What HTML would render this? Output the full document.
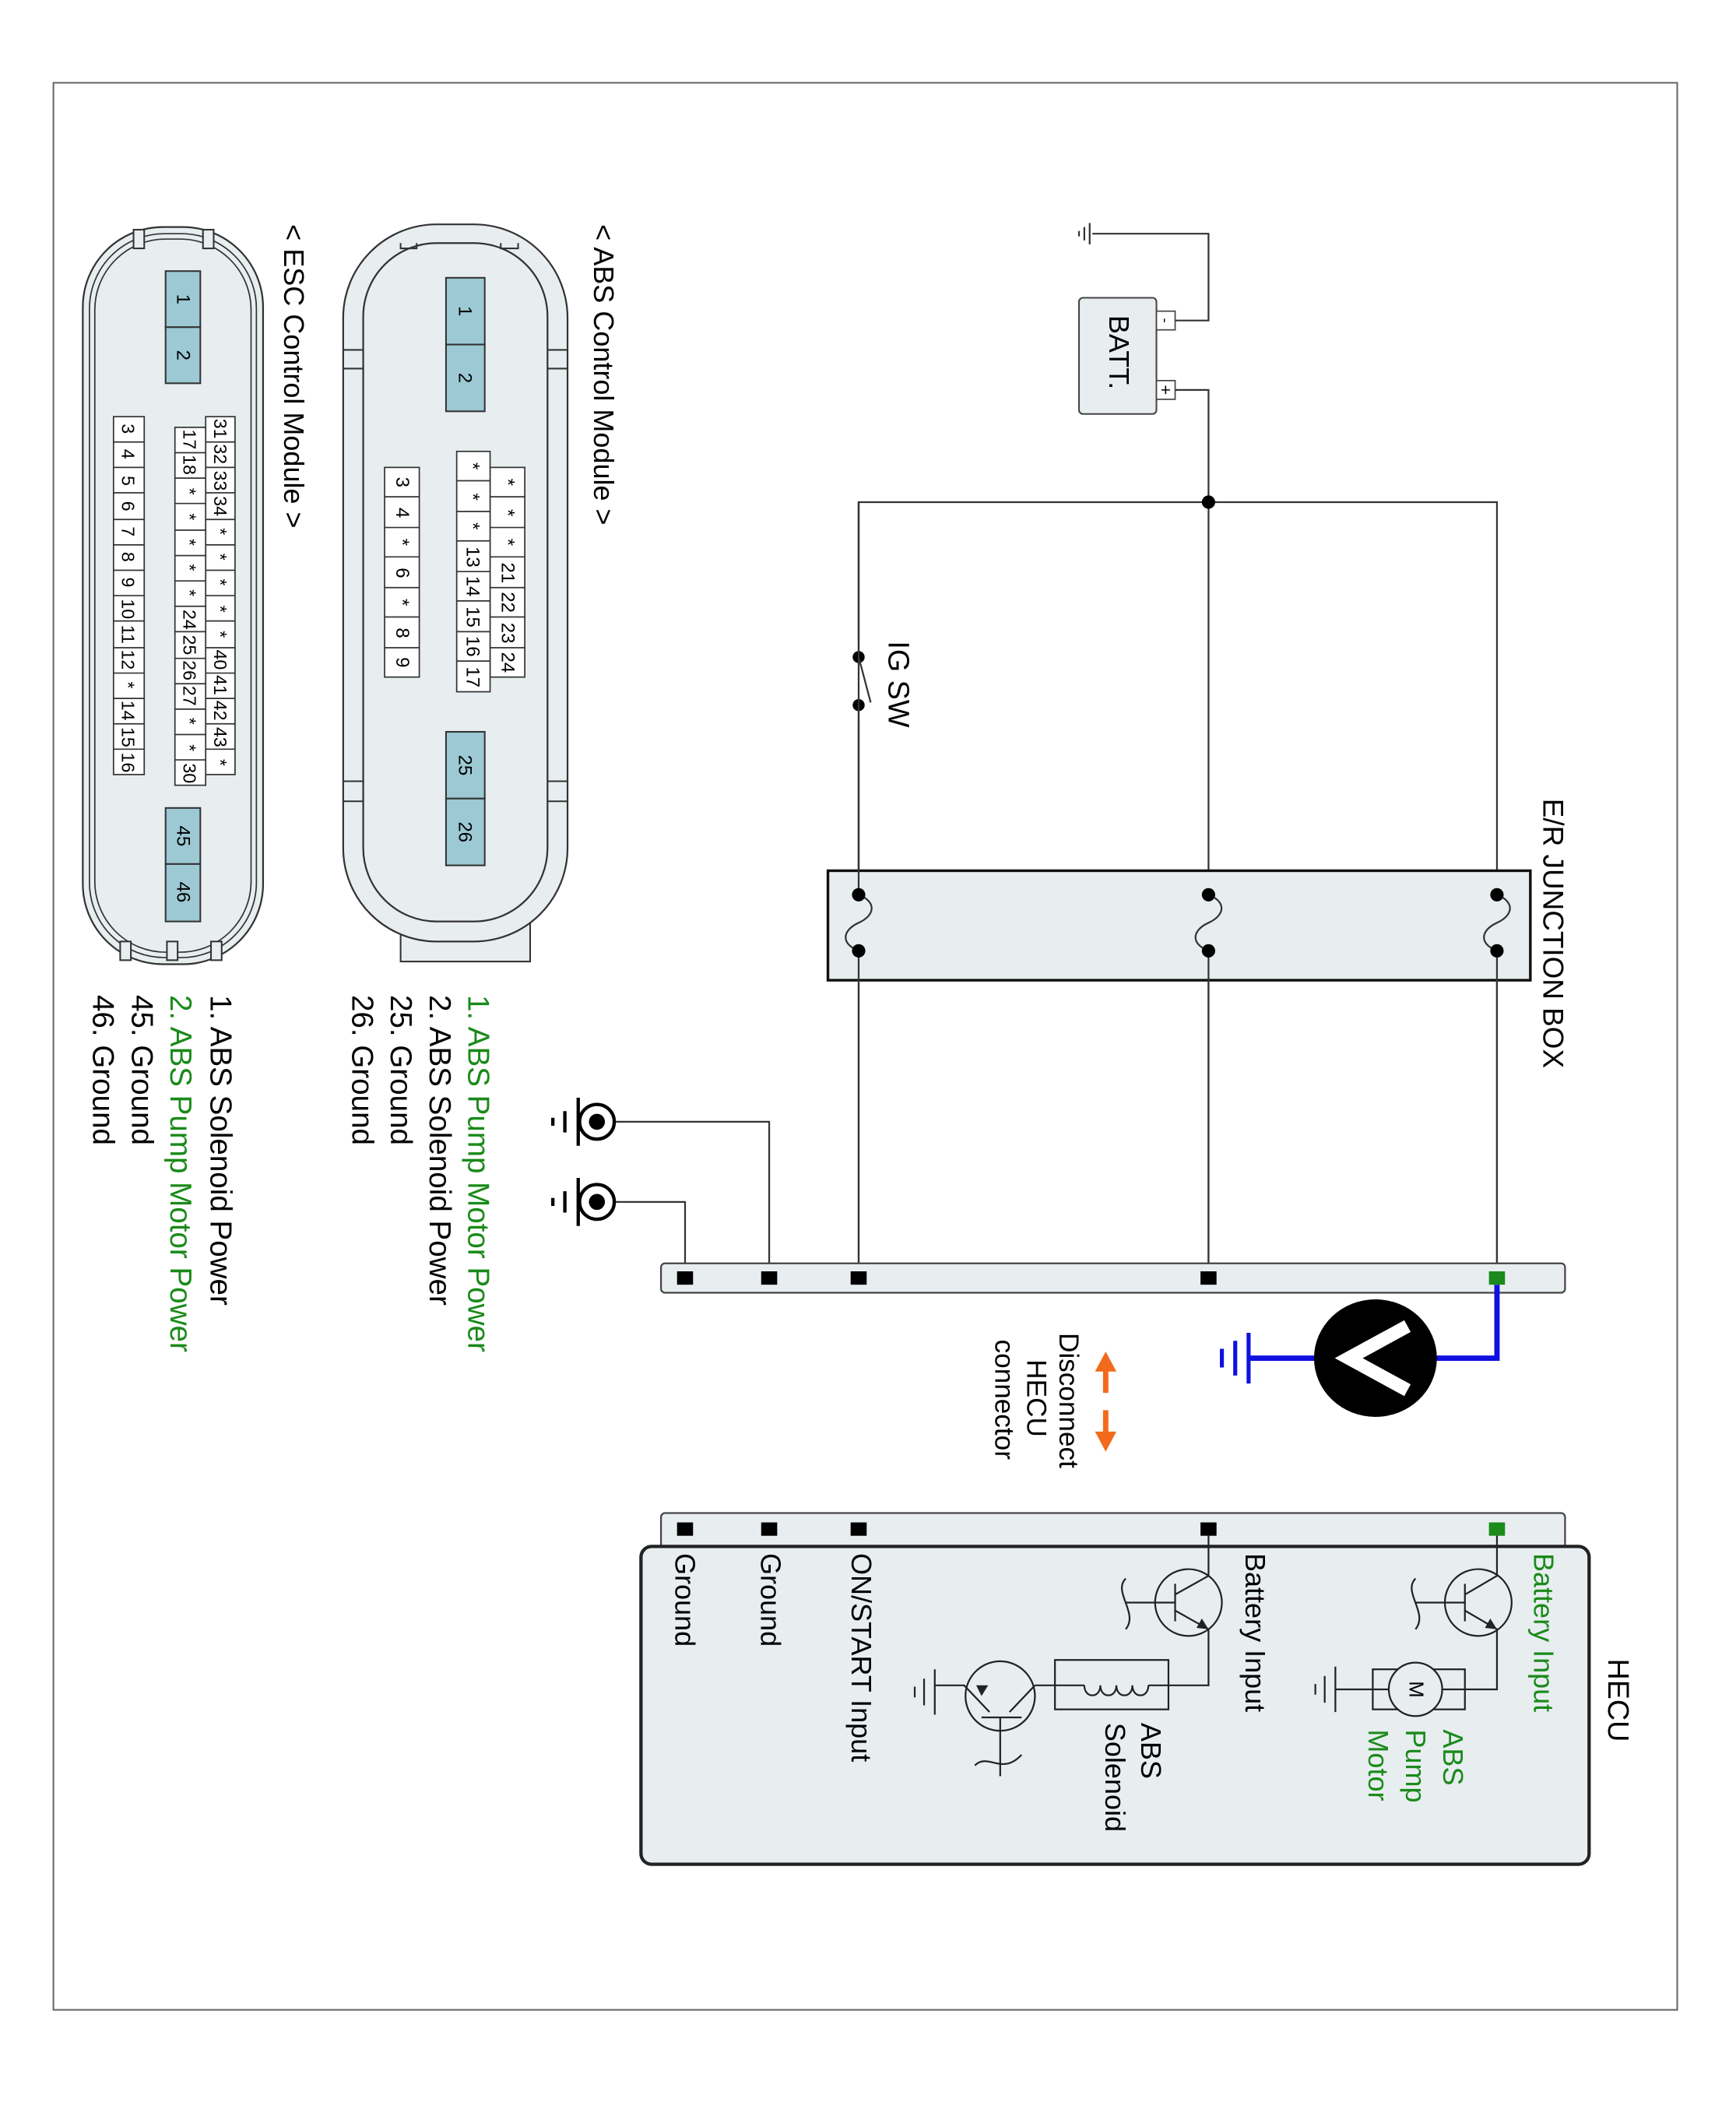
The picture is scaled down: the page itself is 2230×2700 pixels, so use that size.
<!DOCTYPE html>
<html><head><meta charset="utf-8"><style>
html,body{margin:0;padding:0;background:#fff}
svg{display:block}
text{font-family:"Liberation Sans",sans-serif}
</style></head><body>
<svg width="2230" height="2700" viewBox="0 0 1300 1574" xmlns="http://www.w3.org/2000/svg">
<rect x="0" y="0" width="1300" height="1574" fill="#fff"/>
<rect x="40" y="62" width="1216" height="1443" fill="none" stroke="#666" stroke-width="1.2"/>

<g stroke="#333" stroke-width="1.3" fill="none">
<path d="M818 175 H905 V240 H880"/>
<path d="M880 292 H905 V958"/>
<path d="M643 958 V376 H1121 V958"/>
<path d="M812 170 V180 M816 167 V183 M808 173 V177"/>
</g>
<rect x="808" y="223" width="58" height="87" rx="3" fill="#e8eef0" stroke="#444" stroke-width="1.2"/>
<rect x="866" y="233" width="14" height="14" fill="#fff" stroke="#444" stroke-width="1"/>
<rect x="866" y="285" width="14" height="14" fill="#fff" stroke="#444" stroke-width="1"/>
<text transform="translate(873,240) rotate(90)" font-size="11" text-anchor="middle" dominant-baseline="central">-</text>
<text transform="translate(873,292) rotate(90)" font-size="13" text-anchor="middle" dominant-baseline="central">+</text>
<text transform="translate(838,236) rotate(90)" font-size="21" dominant-baseline="central">BATT.</text>
<circle cx="905" cy="376" r="5" fill="#000"/>

<rect x="638" y="480" width="10" height="60" fill="#fff"/>
<path d="M643 376 V492 M643 528 V652" stroke="#333" stroke-width="1.3"/>
<circle cx="643" cy="492" r="4.5" fill="#000"/><circle cx="643" cy="528" r="4.5" fill="#000"/>
<path d="M643 492 L652 526" stroke="#333" stroke-width="1.3"/>
<text transform="translate(673,480) rotate(90)" font-size="22" dominant-baseline="central">IG SW</text>

<rect x="620" y="652" width="526" height="82" fill="#e8eef0" stroke="#111" stroke-width="2"/>
<g stroke="#333" stroke-width="1.3" fill="none">
<path d="M643 376 V670 M643 712 V958"/>
<path d="M905 712 V958"/>
<path d="M1121 712 V958"/>
<path d="M643 670 C656 675 656 685 643 691 C630 697 630 707 643 712"/>
<path d="M905 670 C918 675 918 685 905 691 C892 697 892 707 905 712"/>
<path d="M1121 670 C1134 675 1134 685 1121 691 C1108 697 1108 707 1121 712"/>
</g>
<g fill="#000"><circle cx="643" cy="670" r="5"/><circle cx="643" cy="712" r="5"/><circle cx="905" cy="670" r="5"/><circle cx="905" cy="712" r="5"/><circle cx="1121" cy="670" r="5"/><circle cx="1121" cy="712" r="5"/></g>
<text transform="translate(1163,598) rotate(90)" font-size="21.5" dominant-baseline="central">E/R JUNCTION BOX</text>

<g stroke="#333" stroke-width="1.3" fill="none">
<path d="M460 840 H576 V958"/>
<path d="M460 900 H513 V958"/>
</g>
<g>
<circle cx="447" cy="840" r="13" fill="#fff" stroke="#000" stroke-width="2.5"/><circle cx="447" cy="840" r="6" fill="#000"/>
<path d="M433 822 V858 M423 832 V848 M414 837 V843" stroke="#000" stroke-width="2.5"/>
<circle cx="447" cy="900" r="13" fill="#fff" stroke="#000" stroke-width="2.5"/><circle cx="447" cy="900" r="6" fill="#000"/>
<path d="M433 882 V918 M423 892 V908 M414 897 V903" stroke="#000" stroke-width="2.5"/>
</g>

<rect x="495" y="946" width="677" height="22" rx="3" fill="#e8eef0" stroke="#444" stroke-width="1.3"/>
<g fill="#000"><rect x="507" y="952" width="12" height="10"/><rect x="570" y="952" width="12" height="10"/><rect x="637" y="952" width="12" height="10"/><rect x="899" y="952" width="12" height="10"/></g>
<rect x="1115" y="952" width="12" height="10" fill="#1a8a1a"/>

<path d="M1121 962 V1017 H1065 M995 1017 H935" stroke="#1010e0" stroke-width="4" fill="none"/>
<path d="M935 998 V1036 M925 1004 V1030 M915 1010 V1024" stroke="#1010e0" stroke-width="3"/>
<ellipse cx="1030" cy="1017" rx="46" ry="44" fill="#000"/>
<path d="M1054 993 L1010 1017 L1054 1041" stroke="#fff" stroke-width="10" fill="none"/>

<g stroke="#f26a1b" stroke-width="4" fill="#f26a1b">
<path d="M828 1025 V1043 M828 1056 V1074" fill="none"/>
<path d="M820 1027 L828 1012 L836 1027 Z" stroke="none"/>
<path d="M820 1072 L828 1087 L836 1072 Z" stroke="none"/>
</g>
<text transform="translate(800,998) rotate(90)" font-size="20.5" dominant-baseline="central">Disconnect</text>
<text transform="translate(776,1018) rotate(90)" font-size="20.5" dominant-baseline="central">HECU</text>
<text transform="translate(752,1003) rotate(90)" font-size="20.5" dominant-baseline="central">connector</text>

<rect x="495" y="1133" width="677" height="30" rx="3" fill="#e8eef0" stroke="#444" stroke-width="1.3"/>
<rect x="480" y="1158" width="710" height="238" rx="8" fill="#e8eef0" stroke="#222" stroke-width="2.5"/>
<g fill="#000"><rect x="507" y="1140" width="12" height="10"/><rect x="570" y="1140" width="12" height="10"/><rect x="637" y="1140" width="12" height="10"/><rect x="899" y="1140" width="12" height="10"/></g>
<rect x="1115" y="1140" width="12" height="10" fill="#1a8a1a"/>
<text transform="translate(1212,1242) rotate(90)" font-size="22" dominant-baseline="central">HECU</text>

<g stroke="#222" stroke-width="1.3" fill="none">
<circle cx="1107" cy="1200" r="25"/>
<path d="M1097 1186 V1214 M1060 1200 H1097 M1097 1194 L1121 1180 V1150 M1097 1206 L1121 1220 V1265 H1097"/>
<path d="M1060 1182 C1050 1192 1070 1208 1060 1220"/>
<path d="M1097 1265 H1028 M1028 1265 H1000"/>
<rect x="1028" y="1250" width="69" height="30"/>
<path d="M1000 1248 V1282 M992 1255 V1275 M985 1261 V1269"/>
<circle cx="890" cy="1200" r="25"/>
<path d="M880 1186 V1214 M843 1200 H880 M880 1194 L905 1180 V1150 M880 1206 L905 1220 V1262 H875"/>
<path d="M843 1182 C833 1192 853 1208 843 1220"/>
<rect x="790" y="1243" width="85" height="37"/>
<path d="M875 1262 H860 M860 1262 c0 10 -12 10 -12 0 c0 10 -12 10 -12 0 c0 10 -12 10 -12 0 c0 10 -12 10 -12 0 M812 1262 H790 H775"/>
<circle cx="749" cy="1270" r="26"/>
<path d="M735 1286 H765 M749 1286 V1330 M775 1262 L756 1282 M741 1282 L722 1262 H700"/>
<path d="M730 1322 C740 1312 750 1330 765 1314"/>
<path d="M700 1250 V1284 M692 1257 V1277 M685 1263 V1271"/>
</g>
<g fill="#222"><path d="M1121 1220 L1112 1219 L1116 1212 Z"/><path d="M905 1220 L896 1219 L900 1212 Z"/><path d="M740 1262 L735 1270 L731 1262 Z"/></g>
<circle cx="1060" cy="1265" r="20" fill="#e8eef0" stroke="#222" stroke-width="1.3"/>
<text transform="translate(1060,1265) rotate(90)" font-size="15" text-anchor="middle" dominant-baseline="central">M</text>

<text transform="translate(1156,1163) rotate(90)" font-size="21" fill="#1a8a1a" dominant-baseline="central">Battery Input</text>
<text transform="translate(1088,1295) rotate(90)" font-size="21" fill="#1a8a1a" dominant-baseline="central">ABS</text>
<text transform="translate(1060,1295) rotate(90)" font-size="21" fill="#1a8a1a" dominant-baseline="central">Pump</text>
<text transform="translate(1032,1295) rotate(90)" font-size="21" fill="#1a8a1a" dominant-baseline="central">Motor</text>
<text transform="translate(940,1163) rotate(90)" font-size="21" dominant-baseline="central">Battery Input</text>
<text transform="translate(862,1290) rotate(90)" font-size="21" dominant-baseline="central">ABS</text>
<text transform="translate(835,1290) rotate(90)" font-size="21" dominant-baseline="central">Solenoid</text>
<text transform="translate(645,1163) rotate(90)" font-size="21" dominant-baseline="central">ON/START Input</text>
<text transform="translate(577,1163) rotate(90)" font-size="21" dominant-baseline="central">Ground</text>
<text transform="translate(513,1163) rotate(90)" font-size="21" dominant-baseline="central">Ground</text>

<rect x="300" y="688" width="97" height="32" fill="#e8eef0" stroke="#333" stroke-width="1.2"/>
<rect x="257" y="168" width="168" height="537" rx="70" fill="#e8eef0" stroke="#333" stroke-width="1.3"/>
<rect x="272" y="182" width="138" height="508" rx="55" fill="#e8eef0" stroke="#333" stroke-width="1.3"/>
<g stroke="#333" stroke-width="1.2" fill="none"><path d="M257 262 H272 M257 276 H272 M410 262 H425 M410 276 H425 M257 585 H272 M257 600 H272 M410 585 H425 M410 600 H425 M300 182 V186 H312 V182 M375 182 V186 H388 V182"/></g>
<text transform="translate(452,168) rotate(90)" font-size="21" dominant-baseline="central">&lt; ABS Control Module &gt;</text>
<g stroke="#333" stroke-width="1.2" fill="#9cc9d4">
<rect x="334" y="208" width="29" height="50"/><rect x="334" y="258" width="29" height="50"/>
<rect x="334" y="548" width="29" height="50"/><rect x="334" y="598" width="29" height="50"/>
</g>
<g font-size="14" text-anchor="middle" dominant-baseline="central">
<text transform="translate(348,233) rotate(90)">1</text><text transform="translate(348,283) rotate(90)">2</text>
<text transform="translate(348,573) rotate(90)">25</text><text transform="translate(348,623) rotate(90)">26</text>
</g>
<g stroke="#333" stroke-width="1" fill="#fff">
<rect x="367" y="350" width="26" height="157"/><rect x="342" y="338" width="25" height="180"/><rect x="288" y="350" width="26" height="157"/>
<path d="M367 372 H393 M367 395 H393 M367 417 H393 M367 440 H393 M367 462 H393 M367 485 H393"/>
<path d="M342 360 H367 M342 383 H367 M342 405 H367 M342 428 H367 M342 450 H367 M342 473 H367 M342 495 H367"/>
<path d="M288 372 H314 M288 395 H314 M288 417 H314 M288 440 H314 M288 462 H314 M288 485 H314"/>
</g>
<g font-size="14" text-anchor="middle" dominant-baseline="central">
<text transform="translate(380,361) rotate(90)">*</text><text transform="translate(380,384) rotate(90)">*</text><text transform="translate(380,406) rotate(90)">*</text><text transform="translate(380,429) rotate(90)">21</text><text transform="translate(380,451) rotate(90)">22</text><text transform="translate(380,474) rotate(90)">23</text><text transform="translate(380,496) rotate(90)">24</text>
<text transform="translate(354,349) rotate(90)">*</text><text transform="translate(354,372) rotate(90)">*</text><text transform="translate(354,394) rotate(90)">*</text><text transform="translate(354,417) rotate(90)">13</text><text transform="translate(354,439) rotate(90)">14</text><text transform="translate(354,462) rotate(90)">15</text><text transform="translate(354,484) rotate(90)">16</text><text transform="translate(354,507) rotate(90)">17</text>
<text transform="translate(301,361) rotate(90)">3</text><text transform="translate(301,384) rotate(90)">4</text><text transform="translate(301,406) rotate(90)">*</text><text transform="translate(301,429) rotate(90)">6</text><text transform="translate(301,451) rotate(90)">*</text><text transform="translate(301,474) rotate(90)">8</text><text transform="translate(301,496) rotate(90)">9</text>
</g>

<rect x="62" y="170" width="135" height="552" rx="60" fill="#e8eef0" stroke="#333" stroke-width="1.3"/>
<rect x="67" y="175" width="125" height="542" rx="56" fill="none" stroke="#333" stroke-width="1"/>
<rect x="71" y="179" width="117" height="534" rx="53" fill="none" stroke="#333" stroke-width="1"/>
<g stroke="#333" stroke-width="1.2" fill="#e8eef0"><rect x="100" y="172" width="8" height="14"/><rect x="152" y="172" width="8" height="14"/><rect x="90" y="705" width="8" height="14"/><rect x="125" y="705" width="8" height="14"/><rect x="158" y="705" width="8" height="14"/></g>
<text transform="translate(220,168) rotate(90)" font-size="21" dominant-baseline="central">&lt; ESC Control Module &gt;</text>
<g stroke="#333" stroke-width="1.2" fill="#9cc9d4">
<rect x="124" y="203" width="26" height="42"/><rect x="124" y="245" width="26" height="42"/>
<rect x="124" y="605" width="26" height="42"/><rect x="124" y="647" width="26" height="43"/>
</g>
<g font-size="14" text-anchor="middle" dominant-baseline="central">
<text transform="translate(137,224) rotate(90)">1</text><text transform="translate(137,266) rotate(90)">2</text>
<text transform="translate(137,626) rotate(90)">45</text><text transform="translate(137,668) rotate(90)">46</text>
</g>
<g stroke="#333" stroke-width="1" fill="#fff">
<rect x="154" y="312" width="22" height="268"/><rect x="131" y="320" width="23" height="268"/><rect x="85" y="312" width="23" height="268"/>
<path d="M154 331 H176 M154 350 H176 M154 369 H176 M154 389 H176 M154 408 H176 M154 427 H176 M154 446 H176 M154 465 H176 M154 485 H176 M154 504 H176 M154 523 H176 M154 542 H176 M154 561 H176"/>
<path d="M131 339 H154 M131 358 H154 M131 377 H154 M131 397 H154 M131 416 H154 M131 435 H154 M131 454 H154 M131 473 H154 M131 493 H154 M131 512 H154 M131 531 H154 M131 550 H154 M131 569 H154"/>
<path d="M85 331 H108 M85 350 H108 M85 369 H108 M85 389 H108 M85 408 H108 M85 427 H108 M85 446 H108 M85 465 H108 M85 485 H108 M85 504 H108 M85 523 H108 M85 542 H108 M85 561 H108"/>
</g>
<g font-size="13.5" text-anchor="middle" dominant-baseline="central">
<text transform="translate(165,321) rotate(90)">31</text><text transform="translate(165,340) rotate(90)">32</text><text transform="translate(165,360) rotate(90)">33</text><text transform="translate(165,379) rotate(90)">34</text><text transform="translate(165,398) rotate(90)">*</text><text transform="translate(165,417) rotate(90)">*</text><text transform="translate(165,436) rotate(90)">*</text><text transform="translate(165,456) rotate(90)">*</text><text transform="translate(165,475) rotate(90)">*</text><text transform="translate(165,494) rotate(90)">40</text><text transform="translate(165,513) rotate(90)">41</text><text transform="translate(165,532) rotate(90)">42</text><text transform="translate(165,552) rotate(90)">43</text><text transform="translate(165,571) rotate(90)">*</text>
<text transform="translate(142,329) rotate(90)">17</text><text transform="translate(142,348) rotate(90)">18</text><text transform="translate(142,368) rotate(90)">*</text><text transform="translate(142,387) rotate(90)">*</text><text transform="translate(142,406) rotate(90)">*</text><text transform="translate(142,425) rotate(90)">*</text><text transform="translate(142,444) rotate(90)">*</text><text transform="translate(142,464) rotate(90)">24</text><text transform="translate(142,483) rotate(90)">25</text><text transform="translate(142,502) rotate(90)">26</text><text transform="translate(142,521) rotate(90)">27</text><text transform="translate(142,540) rotate(90)">*</text><text transform="translate(142,560) rotate(90)">*</text><text transform="translate(142,579) rotate(90)">30</text>
<text transform="translate(96,321) rotate(90)">3</text><text transform="translate(96,340) rotate(90)">4</text><text transform="translate(96,360) rotate(90)">5</text><text transform="translate(96,379) rotate(90)">6</text><text transform="translate(96,398) rotate(90)">7</text><text transform="translate(96,417) rotate(90)">8</text><text transform="translate(96,436) rotate(90)">9</text><text transform="translate(96,456) rotate(90)">10</text><text transform="translate(96,475) rotate(90)">11</text><text transform="translate(96,494) rotate(90)">12</text><text transform="translate(96,513) rotate(90)">*</text><text transform="translate(96,532) rotate(90)">14</text><text transform="translate(96,552) rotate(90)">15</text><text transform="translate(96,571) rotate(90)">16</text>
</g>

<g font-size="22.5" dominant-baseline="central">
<text transform="translate(358,745) rotate(90)" fill="#1a8a1a">1. ABS Pump Motor Power</text>
<text transform="translate(329,745) rotate(90)">2. ABS Solenoid Power</text>
<text transform="translate(300,745) rotate(90)">25. Ground</text>
<text transform="translate(271,745) rotate(90)">26. Ground</text>
<text transform="translate(165,745) rotate(90)">1. ABS Solenoid Power</text>
<text transform="translate(135,745) rotate(90)" fill="#1a8a1a">2. ABS Pump Motor Power</text>
<text transform="translate(106,745) rotate(90)">45. Ground</text>
<text transform="translate(77,745) rotate(90)">46. Ground</text>
</g>
</svg>
</body></html>
